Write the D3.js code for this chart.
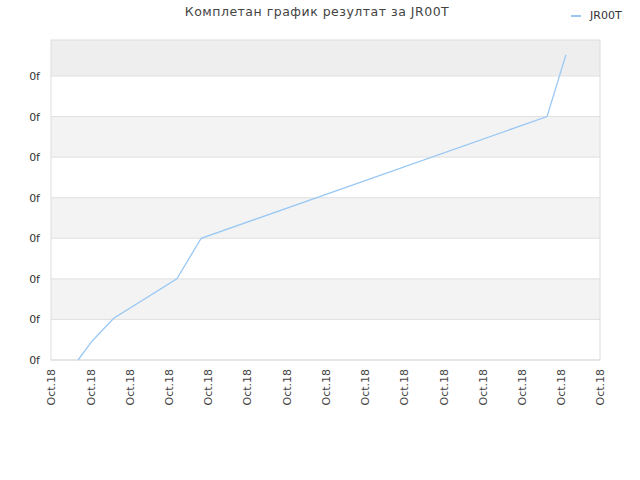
<!DOCTYPE html>
<html lang="sr">
<head>
<meta charset="UTF-8" />
<title>JR00T</title>
<script src="https://d3js.org/d3.v7.min.js"></script>
<style>
  body { margin: 0; background: #fff; }
  text { font-family: "DejaVu Sans", sans-serif; fill: #333; }
</style>
</head>
<body>
<svg id="svg" width="640" height="480"></svg>
<script>
// podaci
const seriesName = "JR00T"
const xLabels = ["Oct.18","Oct.18","Oct.18","Oct.18","Oct.18","Oct.18","Oct.18","Oct.18",
                 "Oct.18","Oct.18","Oct.18","Oct.18","Oct.18","Oct.18","Oct.18"]
const xValues = [0.69, 1.05, 1.6, 3.21, 3.83, 12.65, 13.13]
const yValues = [0, 0.47, 1.03, 2, 3, 6, 7.52]
const yTicks = [0, 1, 2, 3, 4, 5, 6, 7]
const yTickLabel = "0f"

const margin = { top: 40, right: 40, bottom: 120, left: 51 }
const width = 640 - margin.left - margin.right
const height = 480 - margin.top - margin.bottom

const svg = d3.select("#svg")
const g = svg.append("g").attr("transform", `translate(${margin.left},${margin.top})`)

const x = d3.scaleLinear().domain([0, xLabels.length - 1]).range([0, width])
const yMax = 7.887
const y = d3.scaleLinear().domain([0, yMax]).range([height, 0])

// pozadinske trake (gornja je djelimična i tamnija)
g.selectAll("rect.band")
  .data(yTicks)
  .enter()
  .append("rect")
  .attr("x", 0)
  .attr("width", width)
  .attr("y", d => y(Math.min(d + 1, yMax)))
  .attr("height", d => y(d) - y(Math.min(d + 1, yMax)))
  .style("fill", d => d === yTicks.length - 1 ? "#eeeeee" : (d % 2 === 1 ? "#f3f3f3" : "#ffffff"))

// mreža
g.selectAll("line.grid")
  .data(yTicks)
  .enter()
  .append("line")
  .attr("x1", 0).attr("x2", width)
  .attr("y1", d => y(d)).attr("y2", d => y(d))
  .style("stroke", "#e0e0e0")

g.append("rect")
  .attr("width", width).attr("height", height)
  .style("fill", "none").style("stroke", "#dddddd")

// y osa
const yAxis = g.append("g")
  .call(d3.axisLeft(y).tickValues(yTicks).tickSize(0).tickPadding(11).tickFormat(() => yTickLabel))
yAxis.select(".domain").remove()
yAxis.selectAll("text").style("font-size", "11px").style("fill", "#333")

// x osa
const xAxis = g.append("g")
  .attr("transform", `translate(0,${height})`)
  .call(d3.axisBottom(x).tickValues(d3.range(xLabels.length)).tickSize(0).tickFormat(i => xLabels[i]))
xAxis.select(".domain").remove()
xAxis.selectAll("text")
  .attr("transform", "rotate(-90)")
  .attr("text-anchor", "end")
  .attr("x", -9)
  .attr("y", 0)
  .attr("dy", "0.35em")
  .style("font-size", "11px")
  .style("fill", "#444")

// linija
const points = xValues.map((v, i) => [v, yValues[i]])
g.append("path")
  .datum(points)
  .attr("d", d3.line().x(d => x(d[0])).y(d => y(d[1])))
  .style("fill", "none")
  .style("stroke", "#99c8f4")
  .style("stroke-width", 1.3)

// naslov
svg.append("text")
  .attr("x", 317).attr("y", 16)
  .attr("text-anchor", "middle")
  .style("font-size", "12.5px")
  .style("letter-spacing", "0.5px")
  .style("fill", "#444")
  .text("Комплетан график резултат за " + seriesName)

// legenda
svg.append("line")
  .attr("x1", 571).attr("x2", 581).attr("y1", 16).attr("y2", 16)
  .style("stroke", "#99c8f4").style("stroke-width", 2)
svg.append("text")
  .attr("x", 590).attr("y", 19)
  .style("font-size", "11px")
  .text(seriesName)
</script>
</body>
</html>
